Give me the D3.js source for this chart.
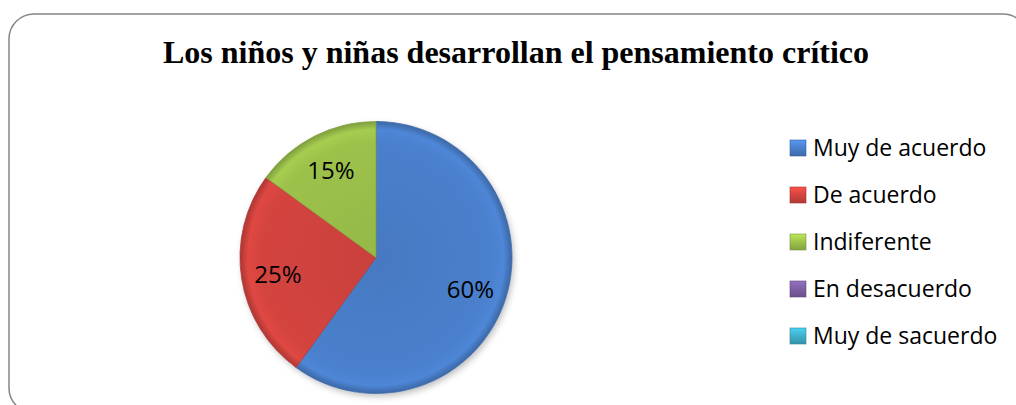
<!DOCTYPE html>
<html>
<head>
<meta charset="utf-8">
<title>Pensamiento crítico</title>
<script src="https://cdn.jsdelivr.net/npm/d3@7"></script>
<style>
  body { margin: 0; background: #fff; }
  .title { font: bold 32px "Liberation Serif", "Times New Roman", serif; text-anchor: middle; fill: #000; }
  .label { font: 24px "Open Sans", sans-serif; text-anchor: middle; fill: #000; }
  .legend text { font: 23px "Open Sans", sans-serif; fill: #000; }
</style>
</head>
<body>
<script>
// data
var categories = ["Muy de acuerdo", "De acuerdo", "Indiferente", "En desacuerdo", "Muy de sacuerdo"];
var values = [60, 25, 15, 0, 0];
var colors = ["#4a80cc", "#d4443f", "#9dc24b", "#7d5fa3", "#3fb0cb"];
var title = "Los niños y niñas desarrollan el pensamiento crítico";

var width = 1016, height = 405;
var cx = 376, cy = 257.5, radius = 136;

var svg = d3.select("body").append("svg")
    .attr("width", width)
    .attr("height", height);

var defs = svg.append("defs");

// bevel-ish gradients for slices (centred on the pie group origin) and swatches
colors.forEach(function(c, i) {
  var base = d3.color(c);
  var g = defs.append("radialGradient")
      .attr("id", "g" + i)
      .attr("gradientUnits", "userSpaceOnUse")
      .attr("cx", 0).attr("cy", 0).attr("r", radius);
  g.append("stop").attr("offset", "0%").attr("stop-color", base.darker(0.15));
  g.append("stop").attr("offset", "85%").attr("stop-color", base);
  g.append("stop").attr("offset", "94%").attr("stop-color", base.brighter(0.15));
  g.append("stop").attr("offset", "100%").attr("stop-color", base.darker(0.6));

  var s = defs.append("linearGradient")
      .attr("id", "s" + i)
      .attr("x1", 0).attr("y1", 0).attr("x2", 0).attr("y2", 1);
  s.append("stop").attr("offset", "0%").attr("stop-color", base.brighter(0.5));
  s.append("stop").attr("offset", "50%").attr("stop-color", base);
  s.append("stop").attr("offset", "100%").attr("stop-color", base.darker(0.5));
});

var shadow = defs.append("filter").attr("id", "shadow")
    .attr("x", "-10%").attr("y", "-10%").attr("width", "130%").attr("height", "130%");
shadow.append("feDropShadow")
    .attr("dx", 2).attr("dy", 3).attr("stdDeviation", 3)
    .attr("flood-color", "#000").attr("flood-opacity", 0.25);

// chart border (runs off the right and bottom edge like the original)
svg.append("rect")
    .attr("x", 9).attr("y", 14)
    .attr("width", 1019).attr("height", 399)
    .attr("rx", 25).attr("ry", 25)
    .attr("fill", "#fff")
    .attr("stroke", "#868686")
    .attr("stroke-width", 1.5);

svg.append("text")
    .attr("class", "title")
    .attr("x", 516).attr("y", 63)
    .text(title);

var pie = d3.pie().sort(null).value(function(d) { return d; });
var arcs = pie(values).filter(function(d) { return d.value > 0; });
var arc = d3.arc().innerRadius(0).outerRadius(radius);
var labelArc = d3.arc().innerRadius(radius * 0.73).outerRadius(radius * 0.73);

var pieG = svg.append("g")
    .attr("transform", "translate(" + cx + "," + cy + ")");

pieG.append("circle")
    .attr("r", radius)
    .attr("fill", "#fff")
    .attr("filter", "url(#shadow)");

pieG.selectAll("path.slice")
  .data(arcs)
  .enter().append("path")
    .attr("class", "slice")
    .attr("d", arc)
    .attr("fill", function(d) { return "url(#g" + d.index + ")"; })
    .attr("stroke", function(d) { return d3.color(colors[d.index]).darker(0.5); })
    .attr("stroke-width", 0.8);

pieG.selectAll("text.label")
  .data(arcs)
  .enter().append("text")
    .attr("class", "label")
    .attr("transform", function(d) { return "translate(" + labelArc.centroid(d) + ")"; })
    .attr("dy", "0.4em")
    .text(function(d) { return d.value + "%"; });

var legend = svg.append("g").attr("class", "legend");
var item = legend.selectAll("g")
  .data(categories)
  .enter().append("g")
    .attr("transform", function(d, i) { return "translate(790," + (156 + i * 47) + ")"; });

item.append("rect")
    .attr("x", 0).attr("y", -16)
    .attr("width", 16).attr("height", 16)
    .attr("fill", function(d, i) { return "url(#s" + i + ")"; })
    .attr("stroke", function(d, i) { return d3.color(colors[i]).darker(0.8); })
    .attr("stroke-width", 0.6);

item.append("text")
    .attr("x", 23).attr("y", 0)
    .text(function(d) { return d; });
</script>
</body>
</html>
